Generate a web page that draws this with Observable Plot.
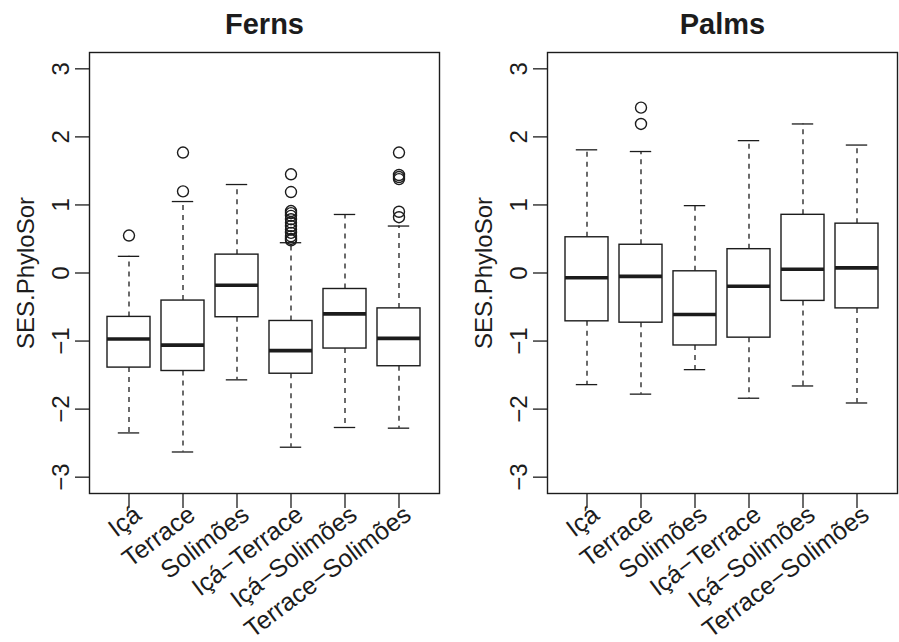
<!DOCTYPE html>
<html><head><meta charset="utf-8">
<script src="https://cdn.jsdelivr.net/npm/d3@7"></script>
<script src="https://cdn.jsdelivr.net/npm/@observablehq/plot@0.6"></script>
<style>
body{margin:0;background:#fff;}
#wrap{display:flex;width:899px;height:642px;}
svg{display:block;font-family:"Liberation Sans",Arial,Helvetica,sans-serif;}
</style>
</head><body><div id="wrap"></div>
<script>
const groups = ["Içá","Terrace","Solimões","Içá−Terrace","Içá−Solimões","Terrace−Solimões"];
const yTicks = [-3,-2,-1,0,1,2,3];

// Ferns
const fernsLower  = [-2.35,-2.63,-1.57,-2.56,-2.27,-2.28];
const fernsQ1     = [-1.39,-1.44,-0.65,-1.48,-1.11,-1.37];
const fernsMedian = [-0.97,-1.06,-0.18,-1.14,-0.60,-0.96];
const fernsQ3     = [-0.645,-0.405,0.27,-0.705,-0.235,-0.52];
const fernsUpper  = [0.245,1.05,1.30,0.445,0.86,0.69];
const fernsOutliers = [
  [0.55],
  [1.77,1.20],
  [],
  [1.45,1.19,0.91,0.88,0.84,0.79,0.74,0.69,0.64,0.59,0.54,0.50,0.48],
  [],
  [1.77,1.44,1.41,1.38,0.90,0.82]
];

// Palms
const palmsLower  = [-1.64,-1.78,-1.42,-1.84,-1.66,-1.91];
const palmsQ1     = [-0.71,-0.73,-1.065,-0.95,-0.41,-0.52];
const palmsMedian = [-0.07,-0.05,-0.61,-0.195,0.055,0.075];
const palmsQ3     = [0.525,0.415,0.025,0.35,0.855,0.725];
const palmsUpper  = [1.81,1.785,0.99,1.945,2.19,1.88];
const palmsOutliers = [
  [],
  [2.43,2.19],
  [],
  [],
  [],
  []
];

const ink = "#1c1c1c";
const fs = 24;

function panel(title, lower, q1, med, q3, upper, outs, width, ml, mr) {
  const stats = groups.map((g,i)=>({group:g, lower:lower[i], q1:q1[i], median:med[i], q3:q3[i], upper:upper[i]}));
  const pts = groups.flatMap((g,i)=>outs[i].map(v=>({group:g, value:v})));
  return Plot.plot({
    width, height: 642,
    marginLeft: ml, marginRight: mr, marginTop: 52, marginBottom: 149,
    style: {fontFamily: '"Liberation Sans",Arial,Helvetica,sans-serif', background: "white", overflow: "visible"},
    x: {type: "band", domain: groups, paddingInner: 0.2, paddingOuter: 0.34, align: 0.5, axis: null},
    y: {domain: [-3.24, 3.24], axis: null},
    marks: [
      Plot.ruleX(stats, {x: "group", y1: "q3", y2: "upper", stroke: ink, strokeWidth: 1.3, strokeDasharray: "5,5"}),
      Plot.ruleX(stats, {x: "group", y1: "q1", y2: "lower", stroke: ink, strokeWidth: 1.3, strokeDasharray: "5,5"}),
      Plot.tickY(stats, {x: "group", y: "upper", stroke: ink, strokeWidth: 1.3, insetLeft: 10.8, insetRight: 10.8}),
      Plot.tickY(stats, {x: "group", y: "lower", stroke: ink, strokeWidth: 1.3, insetLeft: 10.8, insetRight: 10.8}),
      Plot.barY(stats, {x: "group", y1: "q1", y2: "q3", fill: "white", stroke: ink, strokeWidth: 1.4}),
      Plot.tickY(stats, {x: "group", y: "median", stroke: ink, strokeWidth: 3.6}),
      Plot.dot(pts, {x: "group", y: "value", r: 5.5, stroke: ink, strokeWidth: 1.4, fill: "none"}),
      Plot.frame({stroke: ink, strokeWidth: 1.4}),
      Plot.axisY(yTicks, {tickSize: 14, tickFormat: () => "", label: null, stroke: ink, strokeWidth: 1.3}),
      Plot.axisX(groups, {tickSize: 15, tickFormat: () => "", label: null, stroke: ink, strokeWidth: 1.3}),
      Plot.text(yTicks, {y: d => d, text: d => d < 0 ? "−" + Math.abs(d) : String(d), frameAnchor: "left", dx: -21, rotate: -90, textAnchor: "middle", lineAnchor: "bottom", fontSize: fs, fill: ink}),
      Plot.text(["SES.PhyloSor"], {frameAnchor: "left", dx: -56, rotate: -90, textAnchor: "middle", lineAnchor: "bottom", fontSize: fs, fill: ink}),
      Plot.text(groups, {x: d => d, text: d => d, frameAnchor: "bottom", dx: 9, dy: 18, rotate: -37, textAnchor: "end", lineAnchor: "middle", fontSize: 25, fill: ink}),
      Plot.text([title], {frameAnchor: "top", dy: -19, lineAnchor: "bottom", fontSize: 29, fontWeight: "bold", fill: ink})
    ]
  });
}

const wrap = document.getElementById("wrap");
wrap.appendChild(panel("Ferns", fernsLower, fernsQ1, fernsMedian, fernsQ3, fernsUpper, fernsOutliers, 450, 89, 11));
wrap.appendChild(panel("Palms", palmsLower, palmsQ1, palmsMedian, palmsQ3, palmsUpper, palmsOutliers, 449, 97, 2));
</script>
</body></html>
